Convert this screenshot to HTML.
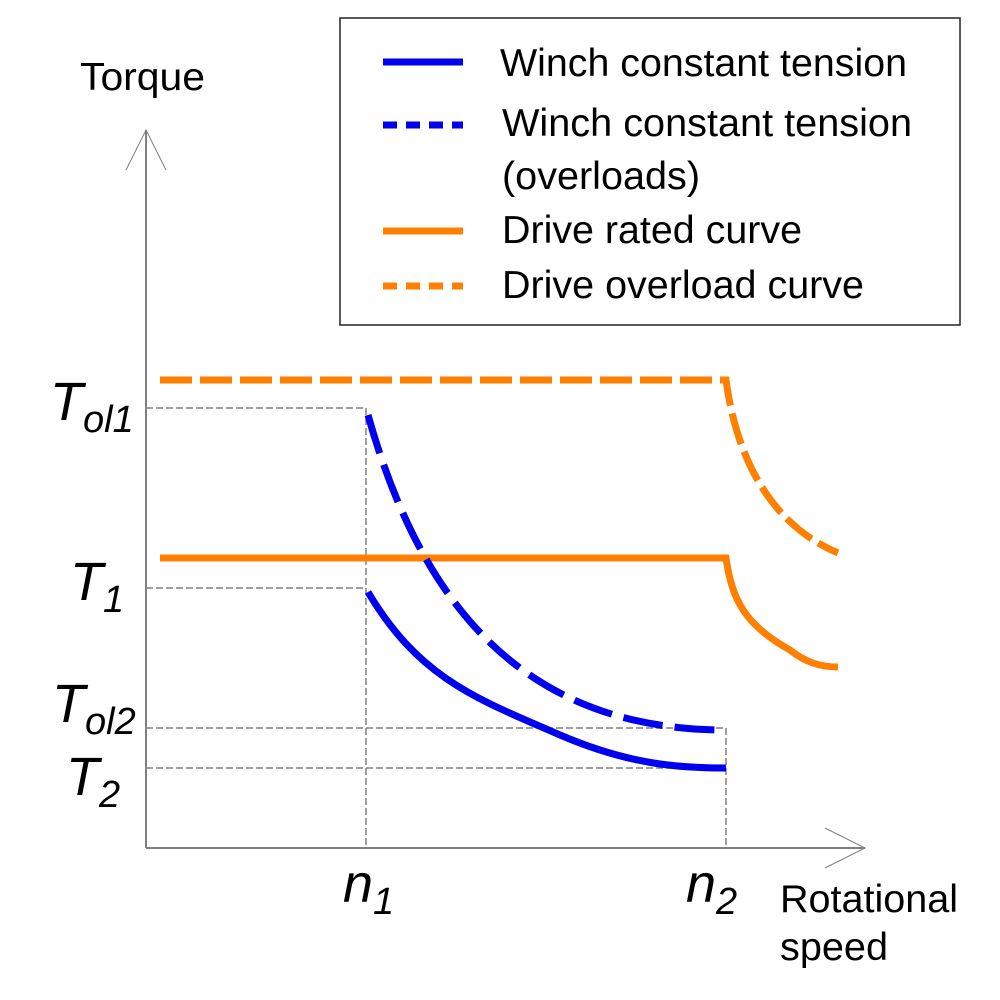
<!DOCTYPE html>
<html><head><style>body{margin:0;background:#fff}svg{display:block}</style></head>
<body>
<svg width="1000" height="1000" viewBox="0 0 1000 1000" font-family="Liberation Sans, Arial, sans-serif">
<rect x="340" y="18" width="620" height="307" fill="none" stroke="#222" stroke-width="1.5"/>
<g stroke-width="7" fill="none">
<line x1="383" y1="62" x2="463" y2="62" stroke="#0000ee"/>
<line x1="383" y1="125" x2="463" y2="125" stroke="#0000ee" stroke-dasharray="14,9"/>
<line x1="383" y1="231" x2="463" y2="231" stroke="#ff8000"/>
<line x1="383" y1="286" x2="463" y2="286" stroke="#ff8000" stroke-dasharray="14,9"/>
</g>
<g font-size="39" fill="#000" lengthAdjust="spacingAndGlyphs">
<text x="500" y="76" textLength="407" lengthAdjust="spacingAndGlyphs">Winch constant tension</text>
<text x="502" y="136" textLength="410" lengthAdjust="spacingAndGlyphs">Winch constant tension</text>
<text x="502" y="189" textLength="198" lengthAdjust="spacingAndGlyphs">(overloads)</text>
<text x="502" y="243" textLength="300" lengthAdjust="spacingAndGlyphs">Drive rated curve</text>
<text x="502" y="298" textLength="362" lengthAdjust="spacingAndGlyphs">Drive overload curve</text>
<text x="80" y="90" textLength="125" lengthAdjust="spacingAndGlyphs">Torque</text>
<text x="780" y="912" textLength="178" lengthAdjust="spacingAndGlyphs">Rotational</text>
<text x="780" y="960" textLength="108" lengthAdjust="spacingAndGlyphs">speed</text>
</g>
<g stroke="#808080" stroke-width="2" fill="none">
<line x1="146" y1="130" x2="146" y2="848"/>
<line x1="146" y1="848" x2="865" y2="848"/>
<polyline points="126,170 146,130 166,170" stroke-width="1"/>
<polyline points="825,828 865,848 825,868" stroke-width="1"/>
</g>
<g stroke="#808080" stroke-width="1.5" stroke-dasharray="7,3" fill="none">
<line x1="146" y1="408" x2="366" y2="408"/>
<line x1="146" y1="588" x2="366" y2="588"/>
<line x1="146" y1="728" x2="726" y2="728"/>
<line x1="146" y1="768" x2="726" y2="768"/>
<line x1="366" y1="408" x2="366" y2="848"/>
<line x1="726" y1="728" x2="726" y2="848"/>
</g>
<g fill="none" stroke-width="7">
<path d="M160,380 L726,380 C734,440 760,520 838,553" stroke="#ff8000" stroke-dasharray="32,8"/>
<path d="M160,558 L726,558 C732,600 745,625 790,650 C805,662 820,667 838,667" stroke="#ff8000"/>
<path d="M368,415 C420,600 520,730 726,730" stroke="#0000ee" stroke-dasharray="40,12"/>
<path d="M368,592 C420,680 480,700 560,735 C630,765 680,768 726,768" stroke="#0000ee"/>
</g>
<g font-size="54" font-style="italic" fill="#000">
<text x="50" y="420">T<tspan font-size="38" dy="12">ol1</tspan></text>
<text x="70" y="600">T<tspan font-size="38" dy="12">1</tspan></text>
<text x="52" y="722">T<tspan font-size="38" dy="12">ol2</tspan></text>
<text x="66" y="795">T<tspan font-size="38" dy="12">2</tspan></text>
<text x="343" y="902">n<tspan font-size="38" dy="12">1</tspan></text>
<text x="686" y="902">n<tspan font-size="38" dy="12">2</tspan></text>
</g>
</svg>
</body></html>
